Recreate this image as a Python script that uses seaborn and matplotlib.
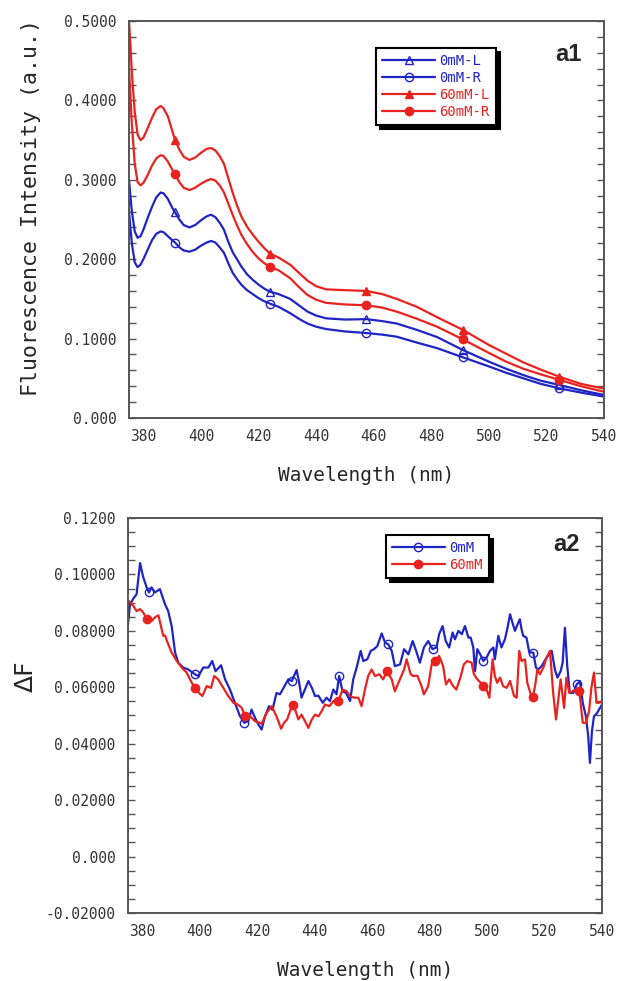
import matplotlib
matplotlib.use("Agg")
import matplotlib.pyplot as plt
import seaborn as sns
from matplotlib.ticker import MultipleLocator, FixedLocator, FixedFormatter


# -----------------------------
# DATA - panel a1 (fluorescence spectra)
# -----------------------------
wl1 = [375, 375.5, 376, 377, 378, 379, 380, 381.5, 383, 384.5, 386, 387, 388.5,
       390, 391, 392.5, 394, 396, 398, 400, 402, 403.5, 405, 406.5, 408, 409.5,
       411, 412.5, 414, 416, 418, 420, 422, 424, 427, 431, 434, 437, 440, 443.5,
       450, 457.5, 463, 468, 475, 482, 491, 500, 506, 512, 518, 524.5, 532, 540]

f_60L = [0.500, 0.470, 0.435, 0.385, 0.357, 0.350, 0.353, 0.365, 0.378, 0.389,
         0.393, 0.390, 0.380, 0.362, 0.350, 0.338, 0.329, 0.325, 0.328, 0.334,
         0.339, 0.340, 0.337, 0.330, 0.320, 0.302, 0.284, 0.268, 0.254, 0.241,
         0.231, 0.222, 0.214, 0.207, 0.202, 0.193, 0.183, 0.173, 0.166, 0.162,
         0.161, 0.160, 0.156, 0.150, 0.140, 0.127, 0.111, 0.092, 0.081, 0.070,
         0.061, 0.052, 0.043, 0.037]

f_60R = [0.440, 0.405, 0.370, 0.320, 0.297, 0.293, 0.296, 0.306, 0.318, 0.327,
         0.331, 0.330, 0.323, 0.313, 0.307, 0.297, 0.290, 0.287, 0.290, 0.295,
         0.299, 0.301, 0.299, 0.293, 0.284, 0.270, 0.256, 0.243, 0.231, 0.219,
         0.209, 0.201, 0.195, 0.190, 0.186, 0.176, 0.165, 0.155, 0.149, 0.145,
         0.143, 0.142, 0.139, 0.134, 0.125, 0.115, 0.099, 0.082, 0.071, 0.062,
         0.055, 0.048, 0.040, 0.033]

f_0L = [0.300, 0.280, 0.260, 0.235, 0.227, 0.229, 0.237, 0.252, 0.266, 0.278,
        0.284, 0.283, 0.276, 0.265, 0.259, 0.250, 0.243, 0.240, 0.243, 0.249,
        0.254, 0.256, 0.253, 0.246, 0.237, 0.222, 0.209, 0.200, 0.191, 0.181,
        0.174, 0.168, 0.163, 0.159, 0.156, 0.150, 0.142, 0.134, 0.129, 0.1255,
        0.124, 0.1245, 0.122, 0.119, 0.111, 0.102, 0.0856, 0.071, 0.062, 0.054,
        0.047, 0.0416, 0.035, 0.029]

f_0R = [0.260, 0.240, 0.220, 0.196, 0.190, 0.193, 0.200, 0.212, 0.224, 0.232,
        0.235, 0.234, 0.229, 0.224, 0.221, 0.215, 0.211, 0.2095, 0.212, 0.217,
        0.221, 0.223, 0.221, 0.215, 0.208, 0.195, 0.183, 0.175, 0.168, 0.161,
        0.156, 0.151, 0.147, 0.144, 0.140, 0.132, 0.125, 0.119, 0.115, 0.112,
        0.109, 0.107, 0.105, 0.1024, 0.095, 0.088, 0.0764, 0.065, 0.057, 0.050,
        0.043, 0.0374, 0.032, 0.027]

marks_wl1 = [391, 424, 457.5, 491, 524.5]

a1_yticks = [0.0, 0.1, 0.2, 0.3, 0.4, 0.5]
a1_ylabels = ["0.000", "0.1000", "0.2000", "0.3000", "0.4000", "0.5000"]


# -----------------------------
# DATA - panel a2 (delta F)
# -----------------------------
wl_0mM = [375.0, 375.7, 376.9, 378.0, 379.2, 380.3, 381.5, 382.3, 383.2, 384.4,
          386.1, 387.9, 389.0, 390.2, 391.4, 392.5, 394.2, 396.0, 398.3, 399.5,
          401.2, 403.0, 404.3, 405.5, 407.4, 408.8, 410.5, 412.2, 414.0, 415.5,
          416.9, 418.0, 419.2, 420.4, 421.5, 422.7, 424.1, 425.3, 426.7, 427.9,
          429.5, 430.8, 432.0, 433.7, 434.6, 435.4, 436.6, 437.8, 439.0, 440.1,
          441.3, 442.8, 444.1, 445.3, 446.5, 447.6, 448.5, 449.7, 450.9, 452.3,
          453.4, 454.6, 456.0, 456.9, 458.3, 459.5, 460.6, 461.8, 463.3, 464.5,
          465.6, 466.8, 467.9, 469.7, 471.1, 472.6, 474.1, 475.5, 476.6, 478.0,
          479.5, 481.0, 482.4, 483.3, 484.5, 485.6, 486.8, 488.0, 488.8, 490.0,
          491.2, 492.3, 493.5, 494.3, 495.2, 495.8, 496.6, 497.6, 498.7, 499.8,
          501.0, 502.2, 502.7, 503.9, 505.0, 506.2, 507.0, 508.0, 509.0, 509.7,
          510.6, 511.4, 512.0, 512.6, 513.7, 514.7, 516.1, 517.0, 517.8, 519.0,
          520.7, 522.5, 523.6, 524.5, 525.6, 526.3, 527.1, 527.9, 528.8, 530.0,
          531.2, 532.3, 533.3, 534.4, 535.2, 535.8, 536.5, 537.2, 538.3, 540.0]

df_0mM = [0.0823, 0.0894, 0.0915, 0.0930, 0.1040, 0.0990, 0.0954, 0.0936, 0.0954, 0.0936,
          0.0948, 0.0894, 0.0870, 0.0817, 0.0723, 0.0687, 0.0670, 0.0663, 0.0646, 0.0640,
          0.0670, 0.0670, 0.0693, 0.0657, 0.0678, 0.0628, 0.0592, 0.0545, 0.0497, 0.0474,
          0.0480, 0.0521, 0.0492, 0.0468, 0.0450, 0.0497, 0.0533, 0.0520, 0.0580, 0.0575,
          0.0604, 0.0628, 0.0622, 0.0661, 0.0616, 0.0563, 0.0592, 0.0622, 0.0598, 0.0569,
          0.0570, 0.0545, 0.0563, 0.0551, 0.0592, 0.0575, 0.0640, 0.0586, 0.0580, 0.0551,
          0.0628, 0.0670, 0.0729, 0.0693, 0.0699, 0.0729, 0.0735, 0.0746, 0.0791, 0.0758,
          0.0752, 0.0729, 0.0675, 0.0681, 0.0735, 0.0717, 0.0764, 0.0723, 0.0687, 0.0741,
          0.0764, 0.0735, 0.0741, 0.0788, 0.0817, 0.0764, 0.0741, 0.0794, 0.0770, 0.0800,
          0.0788, 0.0817, 0.0776, 0.0776, 0.0741, 0.0657, 0.0735, 0.0717, 0.0693, 0.0705,
          0.0729, 0.0741, 0.0699, 0.0782, 0.0741, 0.0770, 0.0805, 0.0859, 0.0823, 0.0800,
          0.0823, 0.0841, 0.0805, 0.0782, 0.0776, 0.0723, 0.0723, 0.0670, 0.0663, 0.0675,
          0.0705, 0.0729, 0.0663, 0.0634, 0.0657, 0.0687, 0.0811, 0.0675, 0.0580, 0.0580,
          0.0610, 0.0622, 0.0545, 0.0497, 0.0427, 0.0332, 0.0444, 0.0497, 0.0509, 0.0539]

wl_60mM = [375.0, 375.3, 376.9, 378.0, 379.2, 380.3, 381.5, 383.2, 384.4, 385.6,
           386.5, 387.3, 387.9, 388.8, 390.2, 392.0, 393.7, 395.4, 397.2, 398.3,
           399.7, 400.9, 402.4, 403.9, 405.0, 406.4, 408.2, 409.9, 411.7, 413.2,
           414.6, 415.7, 416.9, 419.2, 421.5, 423.3, 425.0, 426.7, 428.3, 429.3,
           430.4, 431.4, 432.3, 433.2, 434.3, 435.4, 436.6, 437.8, 439.0, 440.1,
           441.3, 442.4, 443.6, 445.1, 446.5, 448.2, 449.7, 451.1, 452.3, 453.7,
           455.2, 456.3, 457.5, 458.6, 459.8, 461.0, 462.5, 463.8, 465.2, 466.8,
           467.9, 469.4, 471.1, 472.0, 473.4, 474.3, 475.7, 477.2, 478.0, 479.5,
           480.7, 481.8, 483.3, 484.7, 485.7, 486.8, 488.2, 489.3, 490.7, 491.9,
           493.1, 494.6, 495.4, 496.6, 497.8, 498.7, 499.8, 500.8, 501.9, 502.7,
           503.5, 504.5, 505.6, 506.8, 508.0, 509.4, 510.3, 511.2, 512.0, 513.2,
           514.0, 515.2, 515.9, 516.7, 517.5, 518.4, 519.6, 520.7, 521.9, 523.0,
           524.0, 524.8, 525.6, 526.8, 527.6, 528.6, 529.7, 530.9, 532.1, 533.3,
           534.4, 535.5, 536.3, 537.2, 538.1, 539.0, 539.9]

df_60mM = [0.0900, 0.0906, 0.0888, 0.0870, 0.0877, 0.0865, 0.0843, 0.0835, 0.0848, 0.0855,
           0.0815, 0.0782, 0.0784, 0.0758, 0.0723, 0.0693, 0.0670, 0.0652, 0.0616, 0.0598,
           0.0580, 0.0569, 0.0604, 0.0598, 0.0640, 0.0628, 0.0598, 0.0569, 0.0545, 0.0539,
           0.0527, 0.0497, 0.0503, 0.0480, 0.0471, 0.0510, 0.0533, 0.0497, 0.0453, 0.0474,
           0.0486, 0.0515, 0.0536, 0.0520, 0.0486, 0.0503, 0.0480, 0.0456, 0.0486, 0.0503,
           0.0497, 0.0515, 0.0539, 0.0533, 0.0551, 0.0551, 0.0592, 0.0586, 0.0569, 0.0563,
           0.0563, 0.0533, 0.0592, 0.0640, 0.0663, 0.0640, 0.0646, 0.0628, 0.0657, 0.0628,
           0.0586, 0.0622, 0.0663, 0.0699, 0.0646, 0.0640, 0.0641, 0.0604, 0.0575, 0.0604,
           0.0681, 0.0693, 0.0711, 0.0675, 0.0610, 0.0628, 0.0604, 0.0592, 0.0634, 0.0681,
           0.0693, 0.0687, 0.0646, 0.0628, 0.0616, 0.0604, 0.0592, 0.0563, 0.0699, 0.0640,
           0.0616, 0.0634, 0.0604, 0.0598, 0.0622, 0.0569, 0.0563, 0.0729, 0.0693, 0.0699,
           0.0616, 0.0575, 0.0566, 0.0604, 0.0663, 0.0646, 0.0670, 0.0705, 0.0729, 0.0580,
           0.0486, 0.0557, 0.0628, 0.0527, 0.0634, 0.0580, 0.0586, 0.0592, 0.0586, 0.0474,
           0.0474, 0.0515, 0.0598, 0.0652, 0.0545, 0.0545, 0.0550]

marks_0mM = [382.3, 398.3, 415.5, 432.0, 448.5, 465.6, 481.0, 498.7, 516.1, 531.2]
marks_60mM = [381.5, 398.3, 415.7, 432.3, 448.2, 465.2, 481.8, 498.7, 515.9, 532.1]

a2_yticks = [-0.02, 0.0, 0.02, 0.04, 0.06, 0.08, 0.10, 0.12]
a2_ylabels = ["-0.02000", "0.000", "0.02000", "0.04000", "0.06000",
              "0.08000", "0.10000", "0.1200"]

x_ticks = [380, 400, 420, 440, 460, 480, 500, 520, 540]


# -----------------------------
# STYLE
# -----------------------------
sns.set_style("white")
plt.rcParams["font.family"] = ["DejaVu Sans Mono", "DejaVu Sans"]

BLUE = "#1f24c4"
RED = "#e8231f"
SPINE = "#555555"
TICKTXT = "#333333"


def style_axes(ax, yticks, ylabels, minor):
    ax.set_xlim(375, 540)
    ax.set_ylim(yticks[0], yticks[-1])
    ax.xaxis.set_major_locator(FixedLocator(x_ticks))
    ax.set_xticklabels([str(t) for t in x_ticks])
    ax.yaxis.set_major_locator(FixedLocator(yticks))
    ax.yaxis.set_major_formatter(FixedFormatter(ylabels))
    ax.yaxis.set_minor_locator(MultipleLocator(minor))
    ax.tick_params(axis="x", length=0, pad=8, labelsize=10.5, labelcolor=TICKTXT)
    ax.tick_params(axis="y", which="both", direction="in", left=True, right=True,
                   length=5, width=1, color=SPINE, labelsize=10.5, labelcolor=TICKTXT,
                   pad=9)
    for s in ax.spines.values():
        s.set_color(SPINE)
        s.set_linewidth(1.4)


def draw(ax, x, y, color, marker, filled, label, marks):
    idx = [x.index(w) for w in marks]
    sns.lineplot(
        x=x, y=y, ax=ax, color=color, linewidth=1.6, sort=False,
        marker=marker, markevery=idx, markersize=6,
        mec=color, mew=1.0,
        markerfacecolor=color if filled else "none",
        label=label
    )


def legend(ax, anchor):
    leg = ax.legend(
        loc="upper left", bbox_to_anchor=anchor, frameon=True, fancybox=False,
        edgecolor="black", framealpha=1, facecolor="white",
        shadow={"ox": 3, "oy": -3, "color": "black", "alpha": 1},
        labelcolor="linecolor", handlelength=3.8, handletextpad=0.3,
        labelspacing=0.2, borderpad=0.45, borderaxespad=0,
        prop={"family": "DejaVu Sans Mono", "size": 10}
    )
    leg.get_frame().set_linewidth(1.5)


fig = plt.figure(figsize=(6.18, 9.81), dpi=100)

# -----------------------------
# PANEL a1
# -----------------------------
ax1 = fig.add_axes([0.2087, 0.5739, 0.7686, 0.4047])

draw(ax1, wl1, f_0L, BLUE, "^", False, "0mM-L", marks_wl1)
draw(ax1, wl1, f_0R, BLUE, "o", False, "0mM-R", marks_wl1)
draw(ax1, wl1, f_60L, RED, "^", True, "60mM-L", marks_wl1)
draw(ax1, wl1, f_60R, RED, "o", True, "60mM-R", marks_wl1)

style_axes(ax1, a1_yticks, a1_ylabels, 0.02)
ax1.set_xlabel("Wavelength (nm)", fontsize=14, labelpad=16)
ax1.set_ylabel("Fluorescence Intensity (a.u.)", fontsize=15.5)
ax1.yaxis.set_label_coords(-0.185, 0.53)
legend(ax1, (0.52, 0.932))
ax1.text(0.952, 0.945, "a1", transform=ax1.transAxes, ha="right", va="top",
         fontsize=17, fontweight="bold", family="Liberation Sans")

# -----------------------------
# PANEL a2
# -----------------------------
ax2 = fig.add_axes([0.2071, 0.0693, 0.7670, 0.4027])

draw(ax2, wl_0mM, df_0mM, BLUE, "o", False, "0mM", marks_0mM)
draw(ax2, wl_60mM, df_60mM, RED, "o", True, "60mM", marks_60mM)

style_axes(ax2, a2_yticks, a2_ylabels, 0.005)
ax2.set_xlabel("Wavelength (nm)", fontsize=14, labelpad=16)
ax2.set_ylabel("ΔF", fontsize=18, family="DejaVu Sans")
ax2.yaxis.set_label_coords(-0.19, 0.6)
legend(ax2, (0.544, 0.957))
ax2.text(0.954, 0.962, "a2", transform=ax2.transAxes, ha="right", va="top",
         fontsize=17, fontweight="bold", family="Liberation Sans")

plt.savefig("out.png", dpi=100)
